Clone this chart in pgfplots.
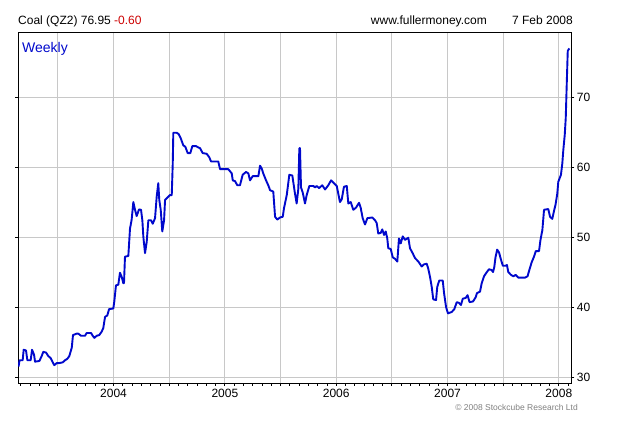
\documentclass[border=0pt]{standalone}
\usepackage{pgfplots}
\pgfplotsset{compat=1.18}
\usepackage{fontspec}
\setmainfont{Liberation Sans}
\definecolor{lineblue}{RGB}{0,8,204}
\definecolor{gridgray}{RGB}{200,200,200}
\definecolor{hdrred}{RGB}{204,0,0}
\definecolor{copygray}{RGB}{128,128,128}
\begin{document}
\begin{tikzpicture}[x=1bp,y=1bp]
\useasboundingbox (0,0) rectangle (619,424);
\begin{axis}[
  at={(18bp,41bp)}, anchor=south west,
  scale only axis, width=553.3bp, height=350.3bp,
  xmin=2003.142, xmax=2008.112, ymin=29.15, ymax=79.2,
  axis line style={black, line width=1bp},
  xtick={2003.5,2004,2004.5,2005,2005.5,2006,2006.5,2007,2007.5,2008},
  xticklabels={,2004,,2005,,2006,,2007,,2008},
  minor xtick={2003.1667,2003.25,2003.3333,2003.4167,2003.5833,2003.6667,2003.75,2003.8333,2003.9167,
    2004.0833,2004.1667,2004.25,2004.3333,2004.4167,2004.5833,2004.6667,2004.75,2004.8333,2004.9167,
    2005.0833,2005.1667,2005.25,2005.3333,2005.4167,2005.5833,2005.6667,2005.75,2005.8333,2005.9167,
    2006.0833,2006.1667,2006.25,2006.3333,2006.4167,2006.5833,2006.6667,2006.75,2006.8333,2006.9167,
    2007.0833,2007.1667,2007.25,2007.3333,2007.4167,2007.5833,2007.6667,2007.75,2007.8333,2007.9167,
    2008.0833},
  ytick={30,40,50,60,70},
  grid=major,
  major grid style={gridgray, line width=1bp},
  tick align=outside,
  xtick pos=left,
  ytick pos=both,
  yticklabel pos=right,
  major tick length=3bp, minor tick length=2.5bp,
  tick style={black, line width=0.8bp},
  /pgf/number format/assume math mode=true,
  ticklabel style={font=\fontsize{12bp}{14bp}\selectfont},
  xticklabel style={yshift=0bp},
  yticklabel style={xshift=-1bp},
  clip=true,
]
\addplot[lineblue, line width=1.9bp, line join=round] coordinates {
(2003.147,31.5)(2003.156,32.4)(2003.184,32.4)(2003.193,33.9)(2003.214,33.8)(2003.226,32.4)
(2003.256,32.4)(2003.268,33.9)(2003.286,33.2)(2003.295,32.2)(2003.334,32.3)(2003.355,33.0)
(2003.369,33.6)(2003.394,33.5)(2003.414,33.0)(2003.436,32.7)(2003.454,32.1)(2003.468,31.7)
(2003.490,32.0)(2003.513,32.0)(2003.544,32.1)(2003.564,32.4)(2003.585,32.6)(2003.603,33.0)
(2003.625,34.2)(2003.636,36.0)(2003.669,36.2)(2003.684,36.2)(2003.708,35.9)(2003.744,35.9)
(2003.759,36.3)(2003.798,36.3)(2003.813,35.9)(2003.828,35.6)(2003.849,35.9)(2003.872,36.0)
(2003.894,36.5)(2003.908,37.0)(2003.924,38.6)(2003.944,38.8)(2003.960,39.7)(2003.998,39.8)
(2004.007,40.8)(2004.022,43.1)(2004.043,43.2)(2004.058,44.9)(2004.074,44.3)(2004.088,43.4)
(2004.094,43.4)(2004.103,47.2)(2004.133,47.3)(2004.148,51.2)(2004.163,52.5)(2004.178,55.0)
(2004.193,53.9)(2004.208,53.0)(2004.229,53.95)(2004.247,53.9)(2004.259,52.4)(2004.268,50.0)
(2004.283,47.7)(2004.298,49.3)(2004.313,52.4)(2004.337,52.4)(2004.352,51.9)(2004.373,52.7)
(2004.388,55.8)(2004.402,57.7)(2004.411,55.3)(2004.424,53.9)(2004.438,50.8)(2004.454,52.4)
(2004.463,55.3)(2004.487,55.7)(2004.507,56.0)(2004.523,56.0)(2004.532,60.5)(2004.537,64.9)
(2004.568,64.9)(2004.586,64.7)(2004.604,64.1)(2004.627,63.1)(2004.645,62.9)(2004.666,62.0)
(2004.690,62.0)(2004.708,63.0)(2004.741,63.0)(2004.762,62.8)(2004.777,62.7)(2004.801,62.0)
(2004.837,61.9)(2004.860,61.4)(2004.876,60.8)(2004.941,60.8)(2004.957,59.7)(2005.031,59.7)
(2005.062,59.1)(2005.071,58.1)(2005.091,58.0)(2005.112,57.4)(2005.136,57.4)(2005.160,58.9)
(2005.190,59.3)(2005.211,59.1)(2005.226,58.1)(2005.250,58.7)(2005.301,58.7)(2005.316,60.2)
(2005.331,59.8)(2005.345,59.1)(2005.370,58.1)(2005.390,57.4)(2005.406,56.7)(2005.435,56.5)
(2005.451,52.9)(2005.471,52.5)(2005.496,52.8)(2005.520,52.9)(2005.531,54.1)(2005.556,56.0)
(2005.579,58.9)(2005.606,58.8)(2005.630,56.2)(2005.645,54.8)(2005.660,56.9)(2005.669,62.7)
(2005.675,62.7)(2005.684,57.1)(2005.699,56.4)(2005.720,54.8)(2005.735,56.0)(2005.759,57.3)
(2005.795,57.3)(2005.810,57.1)(2005.825,57.3)(2005.846,57.0)(2005.875,57.4)(2005.900,56.8)
(2005.929,57.4)(2005.954,58.1)(2005.974,57.8)(2006.005,57.3)(2006.019,56.2)(2006.034,55.0)
(2006.050,55.4)(2006.070,57.2)(2006.095,57.3)(2006.109,54.8)(2006.131,55.0)(2006.154,53.9)
(2006.178,54.2)(2006.205,54.9)(2006.220,54.2)(2006.238,52.7)(2006.259,51.8)(2006.280,52.7)
(2006.325,52.8)(2006.349,52.4)(2006.364,52.0)(2006.378,50.5)(2006.400,50.6)(2006.414,51.1)
(2006.430,50.3)(2006.445,50.8)(2006.459,49.8)(2006.468,48.4)(2006.490,48.3)(2006.508,47.1)
(2006.528,46.9)(2006.549,46.5)(2006.564,49.8)(2006.580,49.1)(2006.598,50.1)(2006.618,49.6)
(2006.648,49.9)(2006.663,48.4)(2006.687,47.7)(2006.708,47.0)(2006.738,46.5)(2006.768,45.8)
(2006.789,46.1)(2006.813,46.2)(2006.827,45.5)(2006.843,44.3)(2006.858,42.9)(2006.872,41.1)
(2006.897,41.0)(2006.908,42.9)(2006.926,43.8)(2006.957,43.8)(2006.969,42.0)(2006.987,40.0)
(2007.004,39.1)(2007.038,39.3)(2007.061,39.7)(2007.083,40.7)(2007.103,40.6)(2007.121,40.3)
(2007.137,41.2)(2007.163,41.3)(2007.180,41.7)(2007.198,40.7)(2007.229,40.8)(2007.253,41.4)
(2007.265,42.0)(2007.292,42.2)(2007.307,43.4)(2007.328,44.4)(2007.353,45.0)(2007.373,45.4)
(2007.395,45.3)(2007.409,45.0)(2007.420,45.7)(2007.431,47.1)(2007.446,48.2)(2007.463,47.8)
(2007.478,46.9)(2007.497,45.9)(2007.521,45.9)(2007.534,46.0)(2007.546,45.0)(2007.570,44.6)
(2007.591,44.4)(2007.613,44.6)(2007.636,44.2)(2007.696,44.2)(2007.719,44.4)(2007.735,45.3)
(2007.756,46.4)(2007.777,47.2)(2007.793,48.0)(2007.822,48.0)(2007.835,49.6)(2007.852,51.0)
(2007.867,53.9)(2007.905,54.0)(2007.921,52.9)(2007.941,52.6)(2007.959,53.9)(2007.970,54.6)
(2007.986,56.2)(2007.995,57.9)(2008.019,58.9)(2008.031,60.5)(2008.040,62.4)(2008.053,64.6)
(2008.062,67.0)(2008.071,71.9)(2008.080,76.6)(2008.094,76.95)
};
\end{axis}
\node[anchor=base west, inner sep=0, font=\fontsize{12bp}{14bp}\selectfont] at (18,399.5) {Coal (QZ2) 76.95 \textcolor{hdrred}{-0.60}};
\node[anchor=base east, inner sep=0, font=\fontsize{12bp}{14bp}\selectfont] at (487,399.5) {www.fullermoney.com};
\node[anchor=base east, inner sep=0, font=\fontsize{12bp}{14bp}\selectfont] at (573,399.5) {7 Feb 2008};
\node[anchor=base west, inner sep=0, font=\fontsize{14bp}{16bp}\selectfont, text=lineblue] at (22,372) {Weekly};
\node[anchor=base east, inner sep=0, font=\fontsize{8.5bp}{10bp}\selectfont, text=copygray] at (578,14) {\textcopyright{} 2008 Stockcube Research Ltd};
\end{tikzpicture}
\end{document}
